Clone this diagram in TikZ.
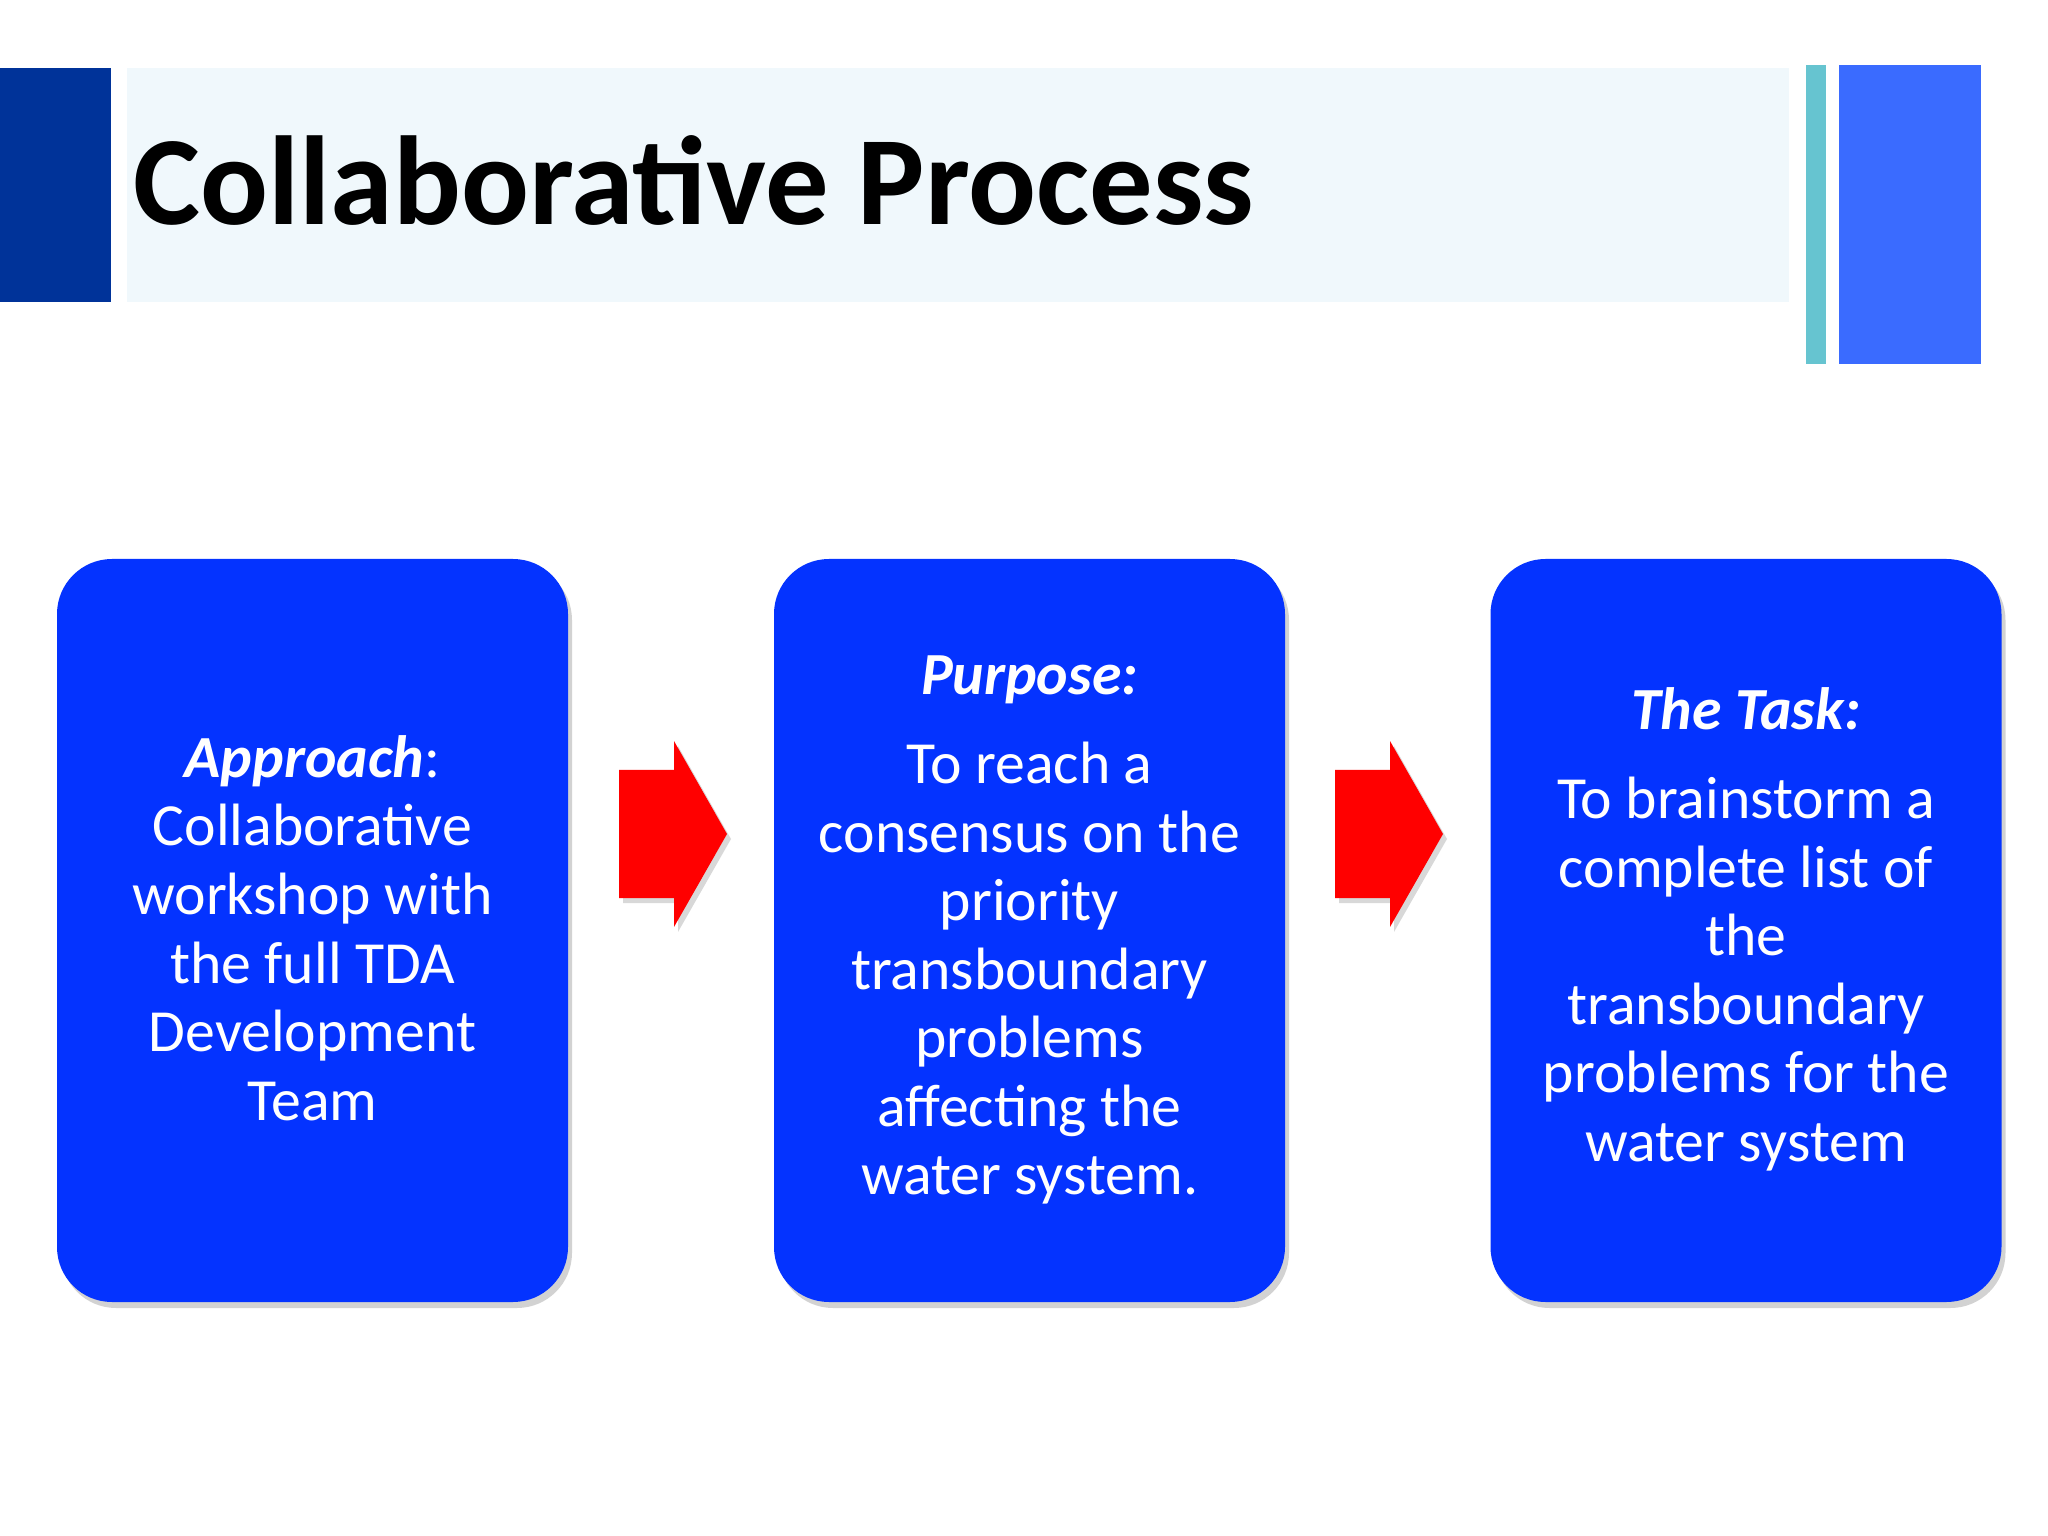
\documentclass[tikz,border=0pt]{standalone}
\usepackage{fontspec}
\setmainfont{Carlito}
\usetikzlibrary{shadows}
\definecolor{darkbar}{HTML}{003399}
\definecolor{titleband}{HTML}{F0F8FC}
\definecolor{tealbar}{HTML}{66C4D0}
\definecolor{lightbar}{HTML}{3A6BFF}
\definecolor{boxblue}{HTML}{0433FF}
\definecolor{arrowred}{HTML}{FF0000}
\tikzset{
  card/.style={fill=boxblue, rounded corners=0.55cm, minimum width=5.11cm, minimum height=7.43cm,
    drop shadow={shadow xshift=0.04cm, shadow yshift=-0.06cm, opacity=0.35}, inner sep=0pt},
  cardtext/.style={text=white, align=center, font=\fontsize{17}{19.5}\selectfont},
  redarrow/.style={fill=arrowred, draw=none, drop shadow={shadow xshift=0.04cm, shadow yshift=-0.05cm, opacity=0.3}}
}
\begin{document}
\begin{tikzpicture}
\useasboundingbox[fill=white] (0,0) rectangle (20.48,-15.36);
\fill[darkbar] (0,-0.68) rectangle (1.11,-3.02);
\fill[titleband] (1.27,-0.68) rectangle (17.89,-3.02);
\fill[tealbar] (18.06,-0.65) rectangle (18.26,-3.64);
\fill[lightbar] (18.39,-0.65) rectangle (19.81,-3.64);
\node[anchor=base west, inner sep=0pt, font=\fontsize{36}{40}\selectfont\bfseries] (title) at (1.33,-2.25) {Collaborative Process};

\node[card] (b1) at (3.125,-9.305) {};
\node[card] (b2) at (10.295,-9.305) {};
\node[card] (b3) at (17.46,-9.305) {};

\node[cardtext] (t1) at (3.125,-9.28) {\textbf{\textit{Approach}}:\\Collaborative\\workshop with\\the full TDA\\Development\\Team};
\node[cardtext] (t2) at (10.295,-9.30) {\textbf{\textit{Purpose:}}\\[6pt]To reach a\\consensus on the\\priority\\transboundary\\problems\\affecting the\\water system.};
\node[cardtext] (t3) at (17.46,-9.29) {\textbf{\textit{The Task:}}\\[6pt]To brainstorm a\\complete list of\\the\\transboundary\\problems for the\\water system};

\foreach \x/\n in {6.19/a1,13.35/a2}{
  \fill[redarrow] (\x,-8.98) -- ++(0.55,0) -- ++(0,-0.29) -- ++(0.53,0.93) -- ++(-0.53,0.93) -- ++(0,-0.29) -- ++(-0.55,0) -- cycle;
}
\coordinate (a1) at (6.73,-9.30);
\coordinate (a2) at (13.89,-9.30);
\end{tikzpicture}
\end{document}
